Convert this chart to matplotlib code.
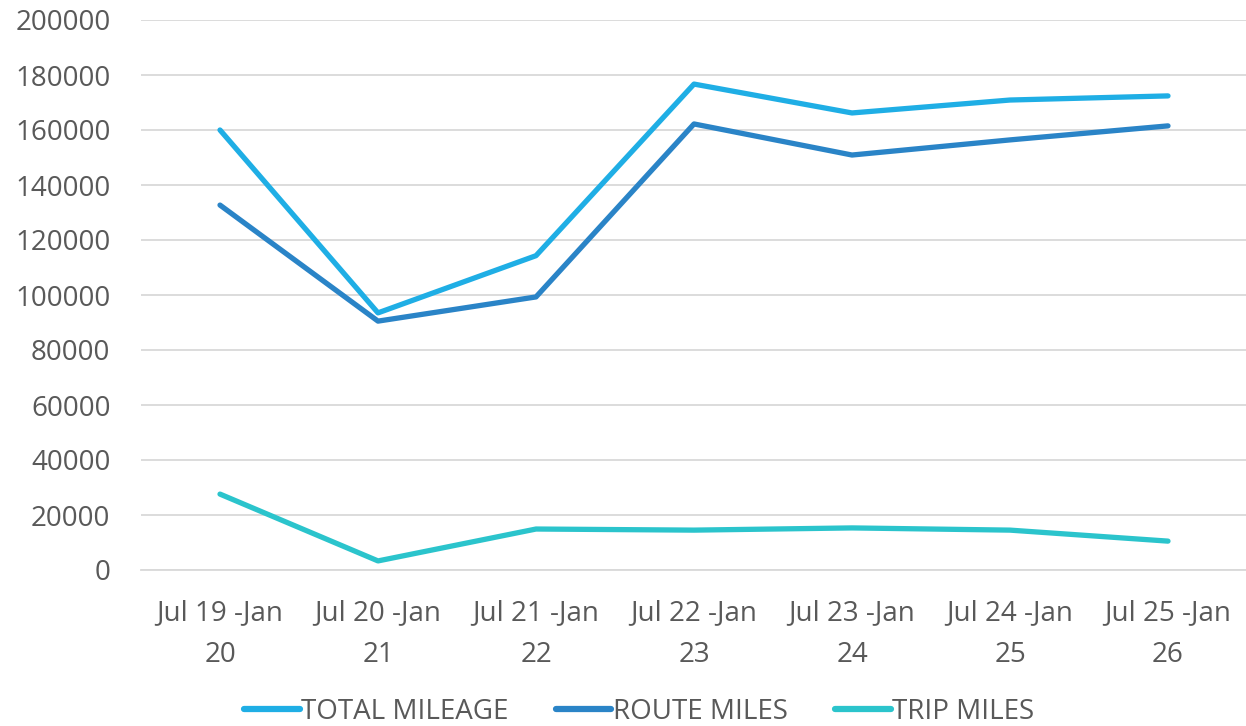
import matplotlib
matplotlib.use("Agg")
import matplotlib.pyplot as plt

categories = ["Jul 19 -Jan\n20", "Jul 20 -Jan\n21", "Jul 21 -Jan\n22", "Jul 22 -Jan\n23",
              "Jul 23 -Jan\n24", "Jul 24 -Jan\n25", "Jul 25 -Jan\n26"]
total_mileage = [160000, 93500, 114300, 176700, 166200, 170900, 172400]
route_miles = [132700, 90500, 99300, 162200, 150900, 156400, 161500]
trip_miles = [27600, 3300, 14900, 14500, 15300, 14500, 10500]
series_names = ["TOTAL MILEAGE", "ROUTE MILES", "TRIP MILES"]
colors = ["#1FAEE5", "#2A84C7", "#2BC4CC"]
yticks = list(range(0, 200001, 20000))

plt.rcParams['font.family'] = ['Open Sans', 'DejaVu Sans']
text_color = "#595959"

fig = plt.figure(figsize=(12.46, 7.26), dpi=100)
ax = fig.add_axes([141/1246, 1-570/726, 1106/1246, 550/726])

x = list(range(len(categories)))
for vals, name, c in zip([total_mileage, route_miles, trip_miles], series_names, colors):
    ax.plot(x, vals, color=c, lw=3.8, solid_capstyle='round', solid_joinstyle='round', label=name, zorder=3)

ax.set_xlim(-0.5, len(categories)-0.5)
ax.set_ylim(0, 200000)
ax.set_yticks(yticks)
ax.set_yticklabels([str(v) for v in yticks])
ax.set_xticks(x)
ax.set_xticklabels(categories, linespacing=1.65)
ax.tick_params(axis='both', length=0, labelsize=20, colors=text_color)
ax.tick_params(axis='x', pad=21)
ax.tick_params(axis='y', pad=22)
ax.grid(axis='y', color='#D9D9D9', lw=1.3, zorder=0)
for s in ax.spines.values():
    s.set_visible(False)
ax.spines['bottom'].set_visible(True)
ax.spines['bottom'].set_color('#D9D9D9')
ax.spines['bottom'].set_linewidth(1.3)

leg = fig.legend(loc='center', bbox_to_anchor=(0.513, 0.019), ncol=3, frameon=False,
                 fontsize=20, handlelength=2.0, handletextpad=0.05, columnspacing=1.7,
                 labelcolor=text_color)
for h in leg.get_lines():
    h.set_linewidth(4.5)

fig.savefig("out.png", dpi=100)
